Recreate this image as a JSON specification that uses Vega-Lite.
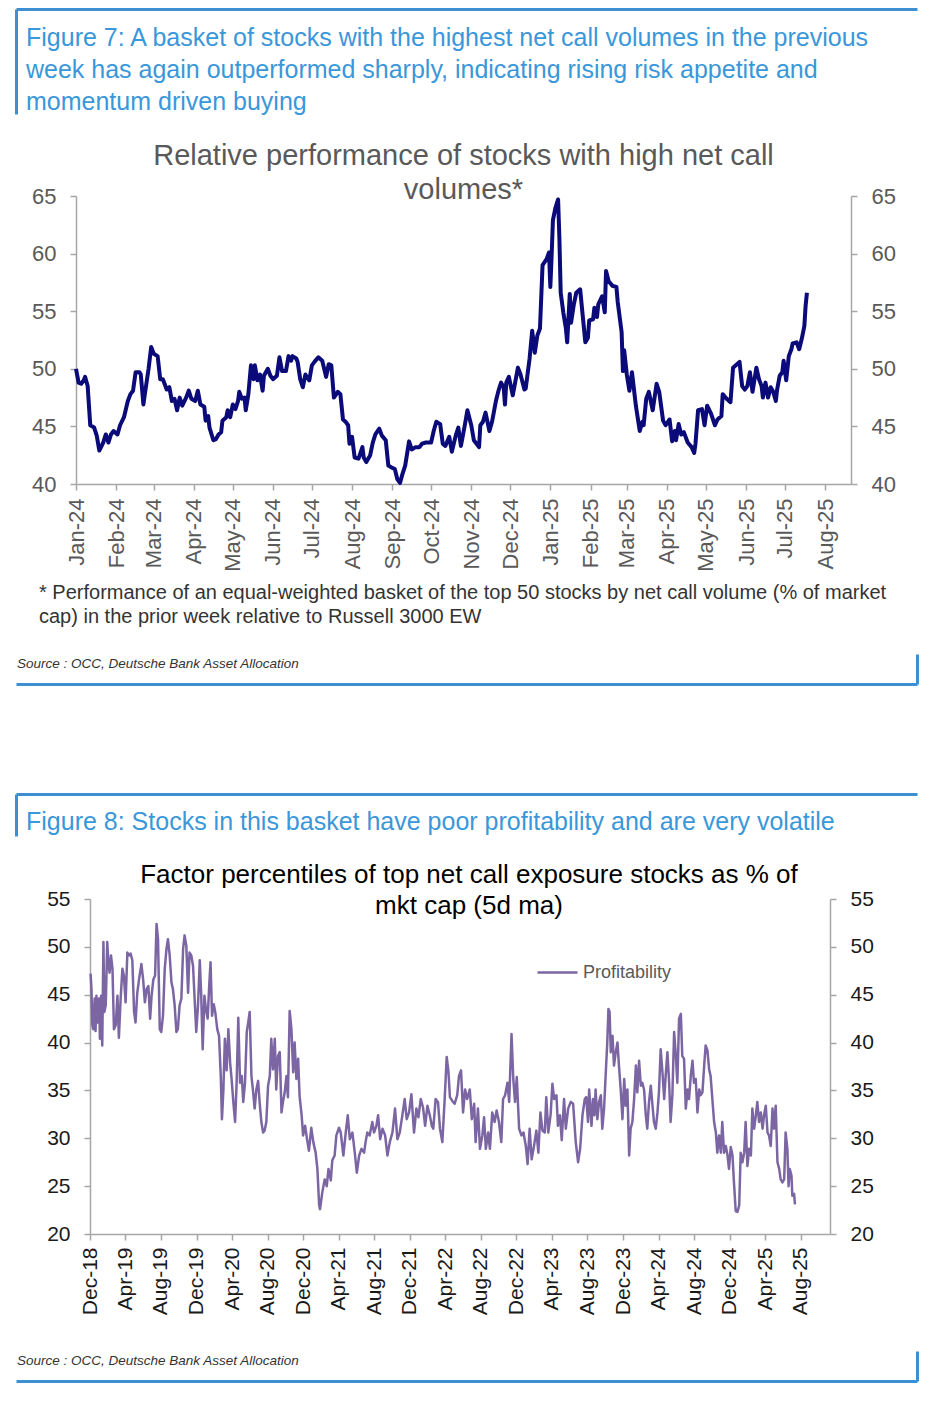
{
"$schema": "https://vega.github.io/schema/vega-lite/v6.json",
"padding": {"left": 16, "top": 9, "right": 4, "bottom": 6},
"bounds": "flush",
"spacing": 0,
"config": {
  "view": {"stroke": null},
  "font": "Liberation Sans",
  "concat": {"spacing": 0},
  "axis": {"grid": false, "domainColor": "#a6a6a6", "tickColor": "#a6a6a6", "domainWidth": 1.5, "tickWidth": 1.5, "tickSize": 6, "labelFont": "Liberation Sans"}
},
"vconcat": [
  {
    "width": 901, "height": 105,
    "data": {"values": [
      {"line": 1, "text": "Figure 7: A basket of stocks with the highest net call volumes in the previous"},
      {"line": 2, "text": "week has again outperformed sharply, indicating rising risk appetite and"},
      {"line": 3, "text": "momentum driven buying"}
    ]},
    "mark": {"type": "text", "align": "left", "baseline": "alphabetic", "fontSize": 25, "color": "#3a97d9", "dx": 10},
    "encoding": {
      "text": {"field": "text"},
      "x": {"datum": 0, "type": "quantitative", "scale": {"domain": [0, 1], "nice": false, "zero": false},
            "axis": {"orient": "top", "domainColor": "#3d8fd1", "domainWidth": 3, "ticks": false, "labels": false, "title": null}},
      "y": {"field": "line", "type": "quantitative", "scale": {"domain": [-0.156, 3.125], "reverse": true, "nice": false, "zero": false},
            "axis": {"orient": "left", "domainColor": "#3d8fd1", "domainWidth": 3, "ticks": false, "labels": false, "title": null}}
    }
  },
  {"width": 1, "height": 82, "data": {"values": []}, "mark": "text"},
  {
    "bounds": "flush",
    "spacing": 0,
    "hconcat": [
      {"width": 60, "height": 288, "data": {"values": []}, "mark": "text"},
      {
        "width": 775, "height": 288,
        "title": {"text": ["Relative performance of stocks with high net call", "volumes*"], "fontSize": 29, "fontWeight": "normal", "color": "#595959", "anchor": "middle", "lineHeight": 34, "offset": -20, "font": "Liberation Sans"},
        "data": {"values": [
{"date":"2024-01-01","value":50.0},{"date":"2024-01-03","value":48.8},{"date":"2024-01-05","value":48.7},{"date":"2024-01-07","value":49.0},{"date":"2024-01-08","value":49.3},{"date":"2024-01-10","value":48.5},{"date":"2024-01-12","value":45.1},{"date":"2024-01-15","value":44.9},{"date":"2024-01-17","value":44.2},{"date":"2024-01-19","value":42.9},{"date":"2024-01-22","value":43.6},{"date":"2024-01-24","value":44.3},{"date":"2024-01-26","value":43.6},{"date":"2024-01-28","value":44.3},{"date":"2024-01-30","value":44.6},
{"date":"2024-02-02","value":44.3},{"date":"2024-02-04","value":45.1},{"date":"2024-02-07","value":45.8},{"date":"2024-02-10","value":47.2},{"date":"2024-02-12","value":47.8},{"date":"2024-02-14","value":48.1},{"date":"2024-02-16","value":49.7},{"date":"2024-02-19","value":49.7},{"date":"2024-02-20","value":49.5},{"date":"2024-02-22","value":46.9},{"date":"2024-02-23","value":47.7},{"date":"2024-02-26","value":50.0},{"date":"2024-02-28","value":51.9},
{"date":"2024-03-01","value":51.3},{"date":"2024-03-04","value":51.1},{"date":"2024-03-06","value":49.1},{"date":"2024-03-08","value":49.1},{"date":"2024-03-11","value":48.2},{"date":"2024-03-13","value":48.4},{"date":"2024-03-15","value":47.2},{"date":"2024-03-17","value":47.4},{"date":"2024-03-19","value":46.4},{"date":"2024-03-21","value":47.5},{"date":"2024-03-23","value":46.8},{"date":"2024-03-26","value":47.5},{"date":"2024-03-28","value":48.1},{"date":"2024-03-30","value":47.4},
{"date":"2024-04-02","value":47.2},{"date":"2024-04-04","value":48.1},{"date":"2024-04-06","value":46.9},{"date":"2024-04-09","value":46.7},{"date":"2024-04-10","value":45.5},{"date":"2024-04-12","value":45.9},{"date":"2024-04-13","value":44.9},{"date":"2024-04-16","value":43.8},{"date":"2024-04-18","value":43.9},{"date":"2024-04-20","value":44.3},{"date":"2024-04-22","value":44.5},{"date":"2024-04-23","value":45.5},{"date":"2024-04-26","value":45.8},{"date":"2024-04-27","value":46.4},{"date":"2024-04-29","value":45.8},
{"date":"2024-05-01","value":46.9},{"date":"2024-05-03","value":46.5},{"date":"2024-05-05","value":47.2},{"date":"2024-05-06","value":48.0},{"date":"2024-05-08","value":47.4},{"date":"2024-05-10","value":47.5},{"date":"2024-05-11","value":46.4},{"date":"2024-05-13","value":47.8},{"date":"2024-05-15","value":50.3},{"date":"2024-05-17","value":49.1},{"date":"2024-05-18","value":50.3},{"date":"2024-05-20","value":49.0},{"date":"2024-05-22","value":49.5},{"date":"2024-05-24","value":48.1},{"date":"2024-05-25","value":49.4},{"date":"2024-05-28","value":50.0},{"date":"2024-05-30","value":49.4},
{"date":"2024-06-01","value":49.1},{"date":"2024-06-04","value":49.4},{"date":"2024-06-06","value":51.0},{"date":"2024-06-08","value":49.8},{"date":"2024-06-11","value":49.8},{"date":"2024-06-13","value":51.1},{"date":"2024-06-15","value":50.7},{"date":"2024-06-16","value":51.1},{"date":"2024-06-19","value":50.9},{"date":"2024-06-20","value":50.6},{"date":"2024-06-22","value":49.1},{"date":"2024-06-24","value":48.4},{"date":"2024-06-26","value":49.5},{"date":"2024-06-29","value":49.0},
{"date":"2024-07-01","value":50.3},{"date":"2024-07-03","value":50.6},{"date":"2024-07-06","value":51.0},{"date":"2024-07-09","value":50.7},{"date":"2024-07-12","value":49.3},{"date":"2024-07-14","value":50.4},{"date":"2024-07-16","value":50.3},{"date":"2024-07-18","value":47.5},{"date":"2024-07-21","value":48.0},{"date":"2024-07-23","value":47.8},{"date":"2024-07-25","value":45.6},{"date":"2024-07-27","value":45.4},{"date":"2024-07-29","value":45.1},{"date":"2024-07-30","value":43.5},
{"date":"2024-08-01","value":44.1},{"date":"2024-08-03","value":42.3},{"date":"2024-08-06","value":42.2},{"date":"2024-08-09","value":43.2},{"date":"2024-08-10","value":42.3},{"date":"2024-08-12","value":41.9},{"date":"2024-08-15","value":42.5},{"date":"2024-08-17","value":43.6},{"date":"2024-08-19","value":44.3},{"date":"2024-08-22","value":44.8},{"date":"2024-08-24","value":44.2},{"date":"2024-08-27","value":43.8},{"date":"2024-08-29","value":41.6},
{"date":"2024-09-01","value":41.4},{"date":"2024-09-03","value":41.3},{"date":"2024-09-05","value":40.4},{"date":"2024-09-07","value":40.1},{"date":"2024-09-09","value":40.9},{"date":"2024-09-11","value":41.6},{"date":"2024-09-14","value":43.7},{"date":"2024-09-16","value":43.0},{"date":"2024-09-19","value":43.2},{"date":"2024-09-22","value":43.2},{"date":"2024-09-24","value":43.5},{"date":"2024-09-27","value":43.6},
{"date":"2024-10-01","value":43.6},{"date":"2024-10-03","value":44.6},{"date":"2024-10-05","value":45.4},{"date":"2024-10-08","value":45.2},{"date":"2024-10-10","value":43.5},{"date":"2024-10-12","value":43.3},{"date":"2024-10-15","value":44.1},{"date":"2024-10-17","value":42.8},{"date":"2024-10-20","value":44.2},{"date":"2024-10-22","value":44.9},{"date":"2024-10-24","value":43.3},{"date":"2024-10-27","value":45.1},{"date":"2024-10-29","value":46.4},
{"date":"2024-11-01","value":45.1},{"date":"2024-11-03","value":43.8},{"date":"2024-11-07","value":43.2},{"date":"2024-11-08","value":45.1},{"date":"2024-11-10","value":45.4},{"date":"2024-11-12","value":46.2},{"date":"2024-11-15","value":44.6},{"date":"2024-11-17","value":45.4},{"date":"2024-11-20","value":47.2},{"date":"2024-11-22","value":48.1},{"date":"2024-11-24","value":48.8},{"date":"2024-11-26","value":48.4},{"date":"2024-11-27","value":46.9},{"date":"2024-11-28","value":48.8},{"date":"2024-11-30","value":49.3},
{"date":"2024-12-03","value":47.7},{"date":"2024-12-07","value":50.1},{"date":"2024-12-09","value":49.5},{"date":"2024-12-12","value":48.2},{"date":"2024-12-13","value":48.3},{"date":"2024-12-16","value":50.9},{"date":"2024-12-18","value":53.3},{"date":"2024-12-20","value":51.4},{"date":"2024-12-22","value":52.9},{"date":"2024-12-24","value":53.5},{"date":"2024-12-26","value":59.0},{"date":"2024-12-29","value":59.5},{"date":"2024-12-31","value":60.1},
{"date":"2025-01-01","value":57.1},{"date":"2025-01-02","value":59.8},{"date":"2025-01-03","value":62.9},{"date":"2025-01-05","value":64.0},{"date":"2025-01-07","value":64.7},{"date":"2025-01-08","value":61.3},{"date":"2025-01-09","value":56.6},{"date":"2025-01-11","value":54.9},{"date":"2025-01-13","value":53.5},{"date":"2025-01-14","value":52.3},{"date":"2025-01-16","value":56.5},{"date":"2025-01-17","value":54.0},{"date":"2025-01-19","value":55.5},{"date":"2025-01-21","value":56.6},{"date":"2025-01-24","value":56.9},{"date":"2025-01-26","value":54.6},{"date":"2025-01-28","value":52.3},{"date":"2025-01-30","value":52.7},{"date":"2025-01-31","value":54.2},
{"date":"2025-02-03","value":54.3},{"date":"2025-02-04","value":55.3},{"date":"2025-02-06","value":54.5},{"date":"2025-02-07","value":55.6},{"date":"2025-02-10","value":56.3},{"date":"2025-02-12","value":54.9},{"date":"2025-02-13","value":58.5},{"date":"2025-02-15","value":57.6},{"date":"2025-02-18","value":57.2},{"date":"2025-02-21","value":57.1},{"date":"2025-02-22","value":55.8},{"date":"2025-02-25","value":53.2},{"date":"2025-02-26","value":49.8},{"date":"2025-02-27","value":51.6},
{"date":"2025-03-01","value":49.5},{"date":"2025-03-03","value":48.1},{"date":"2025-03-05","value":49.7},{"date":"2025-03-08","value":46.8},{"date":"2025-03-11","value":44.6},{"date":"2025-03-13","value":45.4},{"date":"2025-03-14","value":45.1},{"date":"2025-03-16","value":47.4},{"date":"2025-03-18","value":48.0},{"date":"2025-03-21","value":46.4},{"date":"2025-03-24","value":48.7},{"date":"2025-03-26","value":48.0},{"date":"2025-03-29","value":45.5},{"date":"2025-03-31","value":45.1},
{"date":"2025-04-03","value":45.6},{"date":"2025-04-05","value":43.7},{"date":"2025-04-07","value":44.6},{"date":"2025-04-08","value":43.8},{"date":"2025-04-10","value":45.2},{"date":"2025-04-12","value":44.3},{"date":"2025-04-14","value":44.5},{"date":"2025-04-17","value":43.6},{"date":"2025-04-20","value":43.2},{"date":"2025-04-22","value":42.7},{"date":"2025-04-23","value":43.5},{"date":"2025-04-25","value":46.4},{"date":"2025-04-28","value":46.5},{"date":"2025-04-30","value":45.1},
{"date":"2025-05-02","value":46.8},{"date":"2025-05-05","value":46.1},{"date":"2025-05-08","value":45.1},{"date":"2025-05-10","value":45.6},{"date":"2025-05-13","value":45.9},{"date":"2025-05-14","value":47.8},{"date":"2025-05-17","value":47.4},{"date":"2025-05-20","value":47.1},{"date":"2025-05-22","value":50.1},{"date":"2025-05-25","value":50.4},{"date":"2025-05-27","value":50.6},{"date":"2025-05-29","value":48.5},{"date":"2025-05-31","value":48.2},
{"date":"2025-06-02","value":48.5},{"date":"2025-06-04","value":49.7},{"date":"2025-06-06","value":48.0},{"date":"2025-06-09","value":50.1},{"date":"2025-06-11","value":49.1},{"date":"2025-06-13","value":48.5},{"date":"2025-06-14","value":47.5},{"date":"2025-06-16","value":48.8},{"date":"2025-06-18","value":47.5},{"date":"2025-06-20","value":48.4},{"date":"2025-06-22","value":48.0},{"date":"2025-06-24","value":47.2},{"date":"2025-06-25","value":48.2},{"date":"2025-06-27","value":49.4},{"date":"2025-06-29","value":49.7},{"date":"2025-06-30","value":50.7},
{"date":"2025-07-02","value":49.0},{"date":"2025-07-04","value":51.1},{"date":"2025-07-06","value":51.7},{"date":"2025-07-07","value":52.2},{"date":"2025-07-10","value":52.3},{"date":"2025-07-12","value":51.7},{"date":"2025-07-14","value":52.6},{"date":"2025-07-16","value":53.7},{"date":"2025-07-17","value":55.5},{"date":"2025-07-18","value":56.6}
        ]},
        "layer": [
          {
            "mark": {"type": "line", "color": "#0a0a78", "strokeWidth": 4, "strokeJoin": "round"},
            "encoding": {
              "x": {"field": "date", "type": "temporal",
                    "scale": {"domain": [{"year": 2024, "month": 1, "date": 1}, {"year": 2025, "month": 8, "date": 21}], "nice": false},
                    "axis": {"values": [
                      {"year": 2024, "month": 1, "date": 1}, {"year": 2024, "month": 2, "date": 1}, {"year": 2024, "month": 3, "date": 1}, {"year": 2024, "month": 4, "date": 1}, {"year": 2024, "month": 5, "date": 1}, {"year": 2024, "month": 6, "date": 1}, {"year": 2024, "month": 7, "date": 1}, {"year": 2024, "month": 8, "date": 1}, {"year": 2024, "month": 9, "date": 1}, {"year": 2024, "month": 10, "date": 1}, {"year": 2024, "month": 11, "date": 1}, {"year": 2024, "month": 12, "date": 1},
                      {"year": 2025, "month": 1, "date": 1}, {"year": 2025, "month": 2, "date": 1}, {"year": 2025, "month": 3, "date": 1}, {"year": 2025, "month": 4, "date": 1}, {"year": 2025, "month": 5, "date": 1}, {"year": 2025, "month": 6, "date": 1}, {"year": 2025, "month": 7, "date": 1}, {"year": 2025, "month": 8, "date": 1}],
                      "tickCount": 40, "format": "%b-%y", "labelAngle": 270, "labelFontSize": 22, "labelColor": "#595959", "labelPadding": 8, "labelOverlap": false, "labelFlush": false, "labelBound": false, "title": null}},
              "y": {"field": "value", "type": "quantitative",
                    "scale": {"domain": [40, 65], "nice": false, "zero": false},
                    "axis": {"orient": "left", "values": [40, 45, 50, 55, 60, 65], "labelFontSize": 22, "labelColor": "#595959", "labelPadding": 14, "title": null}}
            }
          },
          {
            "mark": {"type": "line", "opacity": 0},
            "encoding": {
              "x": {"field": "date", "type": "temporal"},
              "y": {"field": "value", "type": "quantitative",
                    "axis": {"orient": "right", "values": [40, 45, 50, 55, 60, 65], "labelFontSize": 22, "labelColor": "#595959", "labelPadding": 14, "title": null}}
            }
          }
        ],
        "resolve": {"axis": {"y": "independent"}}
      }
    ]
  },
  {"width": 1, "height": 288, "data": {"values": []}, "mark": "text"},
  {
    "width": 901, "height": 170,
    "data": {"values": [
      {"line": 1, "text": "* Performance of an equal-weighted basket of the top 50 stocks by net call volume (% of market"},
      {"line": 2, "text": "cap) in the prior week relative to Russell 3000 EW"}
    ]},
    "mark": {"type": "text", "align": "left", "baseline": "alphabetic", "fontSize": 20, "color": "#333333", "dx": 23},
    "encoding": {
      "text": {"field": "text"},
      "x": {"datum": 0, "type": "quantitative", "scale": {"domain": [0, 1], "nice": false, "zero": false}, "axis": null},
      "y": {"field": "line", "type": "quantitative", "scale": {"domain": [-3.792, 3.292], "reverse": true, "nice": false, "zero": false}, "axis": null}
    }
  },
  {
    "width": 901, "height": 30,
    "data": {"values": [{"line": 1, "text": "Source : OCC, Deutsche Bank Asset Allocation"}]},
    "mark": {"type": "text", "align": "left", "baseline": "alphabetic", "fontSize": 13.5, "fontStyle": "italic", "color": "#333333", "dx": 1},
    "encoding": {
      "text": {"field": "text"},
      "x": {"datum": 0, "type": "quantitative", "scale": {"domain": [0, 1], "nice": false, "zero": false},
            "axis": {"orient": "bottom", "domainColor": "#3d8fd1", "domainWidth": 3, "ticks": false, "labels": false, "title": null}},
      "y": {"field": "line", "type": "quantitative", "scale": {"domain": [0, 2.143], "reverse": true, "nice": false, "zero": false},
            "axis": {"orient": "right", "domainColor": "#3d8fd1", "domainWidth": 3, "ticks": false, "labels": false, "title": null}}
    }
  },
  {"width": 1, "height": 110, "data": {"values": []}, "mark": "text"},
  {
    "width": 901, "height": 42,
    "data": {"values": [{"line": 1, "text": "Figure 8: Stocks in this basket have poor profitability and are very volatile"}]},
    "mark": {"type": "text", "align": "left", "baseline": "alphabetic", "fontSize": 25, "color": "#3a97d9", "dx": 10},
    "encoding": {
      "text": {"field": "text"},
      "x": {"datum": 0, "type": "quantitative", "scale": {"domain": [0, 1], "nice": false, "zero": false},
            "axis": {"orient": "top", "domainColor": "#3d8fd1", "domainWidth": 3, "ticks": false, "labels": false, "title": null}},
      "y": {"field": "line", "type": "quantitative", "scale": {"domain": [0, 1.1667], "reverse": true, "nice": false, "zero": false},
            "axis": {"orient": "left", "domainColor": "#3d8fd1", "domainWidth": 3, "ticks": false, "labels": false, "title": null}}
    }
  },
  {"width": 1, "height": 63, "data": {"values": []}, "mark": "text"},
  {
    "bounds": "flush",
    "spacing": 0,
    "hconcat": [
      {"width": 74, "height": 335, "data": {"values": []}, "mark": "text"},
      {
        "width": 740, "height": 335,
        "title": {"text": ["Factor percentiles of top net call exposure stocks as % of", "mkt cap (5d ma)"], "fontSize": 26, "fontWeight": "normal", "color": "#000000", "anchor": "middle", "lineHeight": 31, "offset": -31, "dx": 9, "font": "Liberation Sans"},
        "data": {"values": [
{"date":"2018-12-03","value":47.2},{"date":"2018-12-06","value":45.6},{"date":"2018-12-09","value":41.8},{"date":"2018-12-12","value":41.4},{"date":"2018-12-17","value":44.6},{"date":"2018-12-20","value":41.2},{"date":"2018-12-23","value":44.9},{"date":"2018-12-28","value":42.1},
{"date":"2019-01-01","value":44.6},{"date":"2019-01-04","value":40.4},{"date":"2019-01-08","value":44.9},{"date":"2019-01-12","value":39.7},{"date":"2019-01-16","value":50.5},{"date":"2019-01-19","value":43.2},{"date":"2019-01-24","value":43.9},{"date":"2019-01-29","value":50.5},
{"date":"2019-02-02","value":48.4},{"date":"2019-02-06","value":47.3},{"date":"2019-02-11","value":49.1},{"date":"2019-02-16","value":47.7},{"date":"2019-02-21","value":41.4},{"date":"2019-02-27","value":41.8},
{"date":"2019-03-05","value":44.9},{"date":"2019-03-10","value":40.5},{"date":"2019-03-16","value":44.6},{"date":"2019-03-22","value":47.7},{"date":"2019-03-27","value":47.0},
{"date":"2019-04-02","value":44.2},{"date":"2019-04-08","value":49.4},{"date":"2019-04-14","value":49.1},{"date":"2019-04-19","value":49.3},{"date":"2019-04-25","value":48.6},
{"date":"2019-05-01","value":43.2},{"date":"2019-05-06","value":42.1},{"date":"2019-05-12","value":45.2},{"date":"2019-05-18","value":46.6},{"date":"2019-05-26","value":48.2},
{"date":"2019-06-01","value":46.6},{"date":"2019-06-07","value":44.2},{"date":"2019-06-13","value":45.6},{"date":"2019-06-19","value":45.9},{"date":"2019-06-25","value":42.5},{"date":"2019-06-30","value":44.9},
{"date":"2019-07-06","value":46.6},{"date":"2019-07-12","value":47.0},{"date":"2019-07-17","value":52.4},{"date":"2019-07-22","value":50.8},{"date":"2019-07-28","value":41.4},
{"date":"2019-08-02","value":41.1},{"date":"2019-08-08","value":42.8},{"date":"2019-08-14","value":47.7},{"date":"2019-08-20","value":49.8},{"date":"2019-08-25","value":50.8},{"date":"2019-08-31","value":49.1},
{"date":"2019-09-06","value":46.3},{"date":"2019-09-11","value":45.6},{"date":"2019-09-17","value":43.9},{"date":"2019-09-23","value":41.1},{"date":"2019-09-28","value":41.4},
{"date":"2019-10-04","value":43.9},{"date":"2019-10-10","value":44.6},{"date":"2019-10-16","value":49.8},{"date":"2019-10-21","value":51.2},{"date":"2019-10-27","value":50.1},
{"date":"2019-11-02","value":45.2},{"date":"2019-11-07","value":49.4},{"date":"2019-11-13","value":49.1},{"date":"2019-11-19","value":48.0},{"date":"2019-11-25","value":44.2},{"date":"2019-11-30","value":41.1},
{"date":"2019-12-06","value":43.9},{"date":"2019-12-12","value":48.6},{"date":"2019-12-17","value":44.9},{"date":"2019-12-22","value":39.3},{"date":"2019-12-28","value":44.9},
{"date":"2020-01-02","value":43.5},{"date":"2020-01-08","value":42.5},{"date":"2020-01-14","value":46.3},{"date":"2020-01-18","value":48.4},{"date":"2020-01-23","value":42.8},{"date":"2020-01-29","value":44.0},
{"date":"2020-02-03","value":43.2},{"date":"2020-02-10","value":41.4},{"date":"2020-02-16","value":40.7},{"date":"2020-02-22","value":36.5},{"date":"2020-02-26","value":32.0},
{"date":"2020-03-02","value":35.1},{"date":"2020-03-07","value":40.4},{"date":"2020-03-13","value":37.1},{"date":"2020-03-19","value":41.4},{"date":"2020-03-25","value":37.9},{"date":"2020-03-30","value":36.2},
{"date":"2020-04-05","value":33.8},{"date":"2020-04-11","value":31.7},{"date":"2020-04-16","value":35.5},{"date":"2020-04-22","value":42.6},{"date":"2020-04-28","value":35.8},
{"date":"2020-05-04","value":36.5},{"date":"2020-05-09","value":33.8},{"date":"2020-05-15","value":35.8},{"date":"2020-05-21","value":41.1},{"date":"2020-05-26","value":42.1},{"date":"2020-05-31","value":43.2},
{"date":"2020-06-06","value":36.5},{"date":"2020-06-11","value":35.1},{"date":"2020-06-17","value":33.1},{"date":"2020-06-23","value":35.1},{"date":"2020-06-29","value":36.0},
{"date":"2020-07-04","value":33.8},{"date":"2020-07-10","value":31.7},{"date":"2020-07-16","value":30.6},{"date":"2020-07-21","value":30.8},{"date":"2020-07-27","value":31.7},
{"date":"2020-08-02","value":35.5},{"date":"2020-08-08","value":36.5},{"date":"2020-08-13","value":40.4},{"date":"2020-08-19","value":37.2},{"date":"2020-08-25","value":40.4},{"date":"2020-08-30","value":35.1},
{"date":"2020-09-05","value":38.6},{"date":"2020-09-11","value":39.0},{"date":"2020-09-17","value":32.7},{"date":"2020-09-22","value":33.8},{"date":"2020-09-28","value":34.8},
{"date":"2020-10-04","value":36.5},{"date":"2020-10-09","value":34.3},{"date":"2020-10-15","value":43.3},{"date":"2020-10-21","value":41.4},{"date":"2020-10-27","value":36.9},
{"date":"2020-11-01","value":40.0},{"date":"2020-11-07","value":36.2},{"date":"2020-11-13","value":38.3},{"date":"2020-11-18","value":34.4},{"date":"2020-11-25","value":32.4},{"date":"2020-11-30","value":30.3},
{"date":"2020-12-07","value":31.3},{"date":"2020-12-15","value":29.6},{"date":"2020-12-20","value":28.7},{"date":"2020-12-28","value":31.1},
{"date":"2021-01-04","value":29.6},{"date":"2021-01-12","value":28.5},{"date":"2021-01-18","value":26.8},{"date":"2021-01-24","value":23.0},{"date":"2021-01-27","value":22.6},
{"date":"2021-02-04","value":24.4},{"date":"2021-02-12","value":25.7},{"date":"2021-02-19","value":25.0},{"date":"2021-02-25","value":26.8},
{"date":"2021-03-05","value":25.6},{"date":"2021-03-10","value":27.7},{"date":"2021-03-18","value":28.2},{"date":"2021-03-24","value":30.3},
{"date":"2021-04-02","value":31.1},{"date":"2021-04-08","value":30.6},{"date":"2021-04-17","value":28.2},{"date":"2021-04-25","value":30.6},
{"date":"2021-05-02","value":32.4},{"date":"2021-05-09","value":29.9},{"date":"2021-05-18","value":30.6},{"date":"2021-05-26","value":28.5},
{"date":"2021-06-02","value":26.4},{"date":"2021-06-10","value":28.2},{"date":"2021-06-18","value":28.9},{"date":"2021-06-27","value":28.5},
{"date":"2021-07-02","value":29.6},{"date":"2021-07-08","value":30.6},{"date":"2021-07-16","value":30.3},{"date":"2021-07-25","value":31.7},{"date":"2021-07-31","value":30.6},
{"date":"2021-08-08","value":31.3},{"date":"2021-08-14","value":32.4},{"date":"2021-08-21","value":29.9},{"date":"2021-08-29","value":31.0},
{"date":"2021-09-07","value":30.3},{"date":"2021-09-15","value":28.2},{"date":"2021-09-23","value":29.6},
{"date":"2021-10-02","value":30.6},{"date":"2021-10-11","value":33.1},{"date":"2021-10-19","value":29.9},{"date":"2021-10-27","value":30.6},
{"date":"2021-11-05","value":32.4},{"date":"2021-11-13","value":34.1},{"date":"2021-11-20","value":32.0},{"date":"2021-11-28","value":32.7},
{"date":"2021-12-06","value":34.6},{"date":"2021-12-15","value":30.6},{"date":"2021-12-23","value":33.1},{"date":"2021-12-30","value":32.2},
{"date":"2022-01-07","value":34.1},{"date":"2022-01-15","value":33.2},{"date":"2022-01-22","value":31.3},{"date":"2022-01-30","value":33.4},
{"date":"2022-02-07","value":32.4},{"date":"2022-02-14","value":31.3},{"date":"2022-02-19","value":31.0},{"date":"2022-02-27","value":34.1},
{"date":"2022-03-07","value":33.8},{"date":"2022-03-14","value":31.0},{"date":"2022-03-22","value":29.6},{"date":"2022-03-30","value":34.1},
{"date":"2022-04-06","value":38.5},{"date":"2022-04-12","value":36.9},{"date":"2022-04-17","value":34.3},{"date":"2022-04-25","value":33.9},
{"date":"2022-05-03","value":33.6},{"date":"2022-05-12","value":34.5},{"date":"2022-05-18","value":36.5},{"date":"2022-05-25","value":37.1},
{"date":"2022-06-01","value":32.7},{"date":"2022-06-08","value":35.1},{"date":"2022-06-15","value":34.1},{"date":"2022-06-24","value":35.1},
{"date":"2022-07-01","value":32.0},{"date":"2022-07-09","value":33.6},{"date":"2022-07-14","value":29.6},{"date":"2022-07-22","value":33.1},{"date":"2022-07-29","value":28.9},
{"date":"2022-08-06","value":30.3},{"date":"2022-08-12","value":32.2},{"date":"2022-08-18","value":28.9},{"date":"2022-08-26","value":30.6},
{"date":"2022-09-01","value":28.9},{"date":"2022-09-09","value":32.7},{"date":"2022-09-17","value":31.7},{"date":"2022-09-24","value":32.9},
{"date":"2022-10-02","value":31.7},{"date":"2022-10-10","value":29.6},{"date":"2022-10-16","value":34.1},{"date":"2022-10-23","value":34.5},{"date":"2022-10-31","value":35.8},
{"date":"2022-11-06","value":33.8},{"date":"2022-11-14","value":40.9},{"date":"2022-11-20","value":36.2},{"date":"2022-11-26","value":33.8},
{"date":"2022-12-02","value":36.4},{"date":"2022-12-10","value":31.0},{"date":"2022-12-18","value":30.3},{"date":"2022-12-25","value":30.6},
{"date":"2023-01-02","value":29.2},{"date":"2023-01-08","value":27.3},{"date":"2023-01-15","value":31.0},{"date":"2023-01-22","value":27.8},{"date":"2023-01-30","value":29.2},
{"date":"2023-02-07","value":30.8},{"date":"2023-02-14","value":28.5},{"date":"2023-02-21","value":32.7},{"date":"2023-02-28","value":30.8},
{"date":"2023-03-08","value":30.6},{"date":"2023-03-13","value":34.3},{"date":"2023-03-20","value":30.6},{"date":"2023-03-28","value":32.5},
{"date":"2023-04-03","value":35.7},{"date":"2023-04-09","value":34.1},{"date":"2023-04-17","value":34.5},{"date":"2023-04-22","value":31.3},{"date":"2023-04-29","value":32.4},
{"date":"2023-05-05","value":29.8},{"date":"2023-05-13","value":34.1},{"date":"2023-05-19","value":31.0},{"date":"2023-05-27","value":33.1},
{"date":"2023-06-05","value":33.8},{"date":"2023-06-13","value":33.6},{"date":"2023-06-22","value":29.6},{"date":"2023-06-30","value":27.5},
{"date":"2023-07-07","value":28.9},{"date":"2023-07-15","value":32.4},{"date":"2023-07-23","value":34.1},{"date":"2023-07-28","value":34.3},
{"date":"2023-08-03","value":31.7},{"date":"2023-08-07","value":35.1},{"date":"2023-08-15","value":31.3},{"date":"2023-08-20","value":34.1},{"date":"2023-08-25","value":32.4},{"date":"2023-08-29","value":35.1},
{"date":"2023-09-04","value":32.0},{"date":"2023-09-10","value":33.8},{"date":"2023-09-16","value":34.5},{"date":"2023-09-21","value":31.0},{"date":"2023-09-27","value":33.1},
{"date":"2023-10-03","value":36.9},{"date":"2023-10-08","value":40.0},{"date":"2023-10-12","value":43.5},{"date":"2023-10-16","value":43.2},{"date":"2023-10-20","value":39.0},{"date":"2023-10-26","value":40.7},{"date":"2023-10-31","value":37.6},
{"date":"2023-11-06","value":39.0},{"date":"2023-11-12","value":40.0},{"date":"2023-11-17","value":37.6},{"date":"2023-11-23","value":35.1},{"date":"2023-11-29","value":32.0},
{"date":"2023-12-05","value":36.2},{"date":"2023-12-10","value":33.4},{"date":"2023-12-16","value":35.1},{"date":"2023-12-22","value":28.2},{"date":"2023-12-27","value":31.0},
{"date":"2024-01-02","value":31.7},{"date":"2024-01-08","value":34.1},{"date":"2024-01-14","value":37.6},{"date":"2024-01-19","value":34.8},{"date":"2024-01-25","value":38.1},{"date":"2024-01-31","value":35.5},
{"date":"2024-02-05","value":35.8},{"date":"2024-02-11","value":35.1},{"date":"2024-02-17","value":32.4},{"date":"2024-02-22","value":31.0},{"date":"2024-02-28","value":33.8},
{"date":"2024-03-05","value":35.5},{"date":"2024-03-11","value":33.4},{"date":"2024-03-16","value":31.7},{"date":"2024-03-22","value":31.0},{"date":"2024-03-28","value":32.7},
{"date":"2024-04-02","value":34.8},{"date":"2024-04-08","value":39.3},{"date":"2024-04-14","value":36.9},{"date":"2024-04-20","value":34.1},{"date":"2024-04-25","value":36.5},
{"date":"2024-05-01","value":39.0},{"date":"2024-05-07","value":35.8},{"date":"2024-05-12","value":31.7},{"date":"2024-05-18","value":34.5},{"date":"2024-05-24","value":41.1},{"date":"2024-05-30","value":38.6},
{"date":"2024-06-04","value":35.8},{"date":"2024-06-10","value":42.5},{"date":"2024-06-16","value":43.0},{"date":"2024-06-21","value":38.6},{"date":"2024-06-27","value":38.3},
{"date":"2024-07-03","value":33.1},{"date":"2024-07-09","value":35.1},{"date":"2024-07-14","value":34.1},{"date":"2024-07-20","value":36.5},{"date":"2024-07-26","value":38.1},{"date":"2024-07-31","value":35.8},
{"date":"2024-08-06","value":36.2},{"date":"2024-08-12","value":32.7},{"date":"2024-08-18","value":35.1},{"date":"2024-08-23","value":34.5},{"date":"2024-08-29","value":34.8},
{"date":"2024-09-04","value":37.6},{"date":"2024-09-09","value":39.7},{"date":"2024-09-15","value":39.2},{"date":"2024-09-21","value":37.2},{"date":"2024-09-26","value":36.5},
{"date":"2024-10-02","value":34.1},{"date":"2024-10-08","value":31.7},{"date":"2024-10-14","value":30.6},{"date":"2024-10-19","value":28.5},{"date":"2024-10-25","value":30.3},{"date":"2024-10-31","value":28.5},
{"date":"2024-11-05","value":31.7},{"date":"2024-11-11","value":28.5},{"date":"2024-11-17","value":29.2},{"date":"2024-11-23","value":28.2},{"date":"2024-11-28","value":26.8},
{"date":"2024-12-04","value":29.1},{"date":"2024-12-10","value":28.2},{"date":"2024-12-15","value":25.4},{"date":"2024-12-21","value":22.4},{"date":"2024-12-27","value":22.3},
{"date":"2025-01-02","value":23.0},{"date":"2025-01-07","value":28.5},{"date":"2025-01-13","value":27.5},{"date":"2025-01-19","value":28.5},{"date":"2025-01-24","value":31.7},{"date":"2025-01-30","value":27.1},
{"date":"2025-02-05","value":28.9},{"date":"2025-02-11","value":28.2},{"date":"2025-02-16","value":33.1},{"date":"2025-02-22","value":31.0},{"date":"2025-02-28","value":32.4},
{"date":"2025-03-05","value":33.8},{"date":"2025-03-11","value":31.7},{"date":"2025-03-17","value":32.7},{"date":"2025-03-23","value":31.0},{"date":"2025-03-28","value":32.4},
{"date":"2025-04-03","value":33.4},{"date":"2025-04-09","value":30.6},{"date":"2025-04-14","value":30.3},{"date":"2025-04-20","value":29.2},{"date":"2025-04-26","value":33.1},
{"date":"2025-05-01","value":31.0},{"date":"2025-05-07","value":33.4},{"date":"2025-05-13","value":27.5},{"date":"2025-05-19","value":26.8},{"date":"2025-05-24","value":25.7},{"date":"2025-05-30","value":25.4},
{"date":"2025-06-05","value":25.7},{"date":"2025-06-10","value":30.6},{"date":"2025-06-16","value":28.9},{"date":"2025-06-20","value":25.0},{"date":"2025-06-24","value":26.8},{"date":"2025-06-30","value":26.1},
{"date":"2025-07-03","value":24.0},{"date":"2025-07-09","value":24.2},{"date":"2025-07-12","value":23.1}
        ]},
        "layer": [
          {
            "mark": {"type": "line", "strokeWidth": 2.5, "strokeJoin": "round"},
            "encoding": {
              "x": {"field": "date", "type": "temporal",
                    "scale": {"domain": [{"year": 2018, "month": 12, "date": 1}, {"year": 2025, "month": 11, "date": 9}], "nice": false},
                    "axis": {"values": [
                      {"year": 2018, "month": 12, "date": 1}, {"year": 2019, "month": 4, "date": 1}, {"year": 2019, "month": 8, "date": 1}, {"year": 2019, "month": 12, "date": 1},
                      {"year": 2020, "month": 4, "date": 1}, {"year": 2020, "month": 8, "date": 1}, {"year": 2020, "month": 12, "date": 1},
                      {"year": 2021, "month": 4, "date": 1}, {"year": 2021, "month": 8, "date": 1}, {"year": 2021, "month": 12, "date": 1},
                      {"year": 2022, "month": 4, "date": 1}, {"year": 2022, "month": 8, "date": 1}, {"year": 2022, "month": 12, "date": 1},
                      {"year": 2023, "month": 4, "date": 1}, {"year": 2023, "month": 8, "date": 1}, {"year": 2023, "month": 12, "date": 1},
                      {"year": 2024, "month": 4, "date": 1}, {"year": 2024, "month": 8, "date": 1}, {"year": 2024, "month": 12, "date": 1},
                      {"year": 2025, "month": 4, "date": 1}, {"year": 2025, "month": 8, "date": 1}],
                      "tickCount": 40, "format": "%b-%y", "labelAngle": 270, "labelFontSize": 21, "labelColor": "#1a1a1a", "labelPadding": 7, "labelOverlap": false, "labelFlush": false, "labelBound": false, "title": null}},
              "y": {"field": "value", "type": "quantitative",
                    "scale": {"domain": [20, 55], "nice": false, "zero": false},
                    "axis": {"orient": "left", "values": [20, 25, 30, 35, 40, 45, 50, 55], "labelFontSize": 21, "labelColor": "#1a1a1a", "labelPadding": 14, "title": null}},
              "color": {"datum": "Profitability", "scale": {"range": ["#7b66a3"]},
                        "legend": {"orient": "none", "legendX": 520, "legendY": 942, "title": null, "symbolType": "stroke", "symbolSize": 1600, "symbolStrokeWidth": 2.5, "labelFontSize": 18, "labelColor": "#595959", "labelFont": "Liberation Sans", "labelOffset": 4}}
            }
          },
          {
            "mark": {"type": "line", "opacity": 0},
            "encoding": {
              "x": {"field": "date", "type": "temporal"},
              "y": {"field": "value", "type": "quantitative",
                    "axis": {"orient": "right", "values": [20, 25, 30, 35, 40, 45, 50, 55], "labelFontSize": 21, "labelColor": "#1a1a1a", "labelPadding": 14, "title": null}}
            }
          }
        ],
        "resolve": {"axis": {"y": "independent"}}
      }
    ]
  },
  {"width": 1, "height": 335, "data": {"values": []}, "mark": "text"},
  {"width": 1, "height": 117, "data": {"values": []}, "mark": "text"},
  {
    "width": 901, "height": 30,
    "data": {"values": [{"line": 1, "text": "Source : OCC, Deutsche Bank Asset Allocation"}]},
    "mark": {"type": "text", "align": "left", "baseline": "alphabetic", "fontSize": 13.5, "fontStyle": "italic", "color": "#333333", "dx": 1},
    "encoding": {
      "text": {"field": "text"},
      "x": {"datum": 0, "type": "quantitative", "scale": {"domain": [0, 1], "nice": false, "zero": false},
            "axis": {"orient": "bottom", "domainColor": "#3d8fd1", "domainWidth": 3, "ticks": false, "labels": false, "title": null}},
      "y": {"field": "line", "type": "quantitative", "scale": {"domain": [0, 2.143], "reverse": true, "nice": false, "zero": false},
            "axis": {"orient": "right", "domainColor": "#3d8fd1", "domainWidth": 3, "ticks": false, "labels": false, "title": null}}
    }
  }
]
}
